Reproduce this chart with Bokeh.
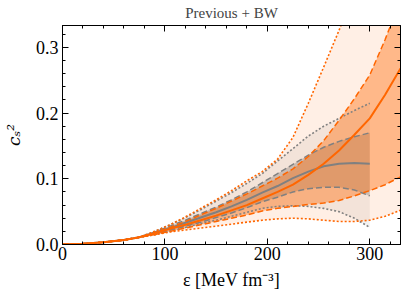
from bokeh.plotting import figure
from bokeh.models import LinearAxis, SingleIntervalTicker, PrintfTickFormatter
from bokeh.embed import file_html
from bokeh.resources import INLINE

# energy density grid (MeV fm^-3)
eps_prev = [0, 20, 40, 60, 75, 90, 105, 120, 135, 150, 165, 180, 195, 210, 225, 240, 255, 270, 285, 300]
eps_bw = eps_prev + [315, 330]

# "Previous" band (gray)
prev_median = [0, .0012, .0035, .0068, .011, .018, .025, .033, .041, .049, .058, .068, .079, .089, .101, .111, .119, .123, .124, .123]
prev_68_hi = [0, .0012, .0035, .0068, .011, .019, .028, .037, .047, .057, .068, .080, .094, .108, .122, .136, .148, .157, .164, .170]
prev_68_lo = [0, .0012, .0035, .0068, .011, .016, .022, .028, .034, .041, .048, .056, .065, .072, .080, .085, .087, .087, .083, .074]
prev_95_hi = [0, .0012, .0035, .0068, .011, .020, .030, .041, .053, .066, .079, .093, .108, .127, .146, .165, .180, .192, .204, .215]
prev_95_lo = [0, .0012, .0035, .0068, .011, .015, .020, .026, .032, .037, .043, .049, .055, .058, .059, .058, .055, .050, .040, .026]

# "Previous + BW" band (orange)
bw_median = [0, .0012, .0035, .0068, .011, .017, .024, .030, .037, .044, .052, .060, .070, .080, .091, .106, .123, .143, .167, .192, .228, .268]
bw_68_hi = [0, .0012, .0035, .0068, .011, .018, .026, .035, .045, .055, .066, .077, .089, .101, .115, .134, .158, .189, .222, .258, .312, .372]
bw_68_lo = [0, .0012, .0035, .0068, .011, .015, .020, .025, .030, .035, .040, .045, .051, .055, .058, .061, .063, .067, .074, .082, .091, .103]
bw_95_hi = [0, .0012, .0035, .0068, .011, .020, .030, .042, .055, .068, .082, .097, .111, .130, .163, .215, .270, .326, .385, .445, .505, .565]
bw_95_lo = [0, .0012, .0035, .0068, .011, .015, .019, .022, .025, .028, .031, .034, .037, .039, .040, .039, .037, .035, .035, .037, .043, .052]

x_ticks_interval = 100
y_ticks_interval = 0.1
x_max = 330
y_max = 1 / 3

GRAY = "#808080"
ORANGE = "#ff6600"
FONT = "Liberation Serif"

p = figure(width=408, height=299, x_range=(0, x_max), y_range=(0, y_max),
           output_backend="svg", toolbar_location=None,
           min_border_left=60, min_border_right=8, min_border_top=24, min_border_bottom=55)
p.background_fill_color = "white"
p.border_fill_color = "white"
p.outline_line_color = "black"
p.outline_line_width = 1
p.xgrid.visible = False
p.ygrid.visible = False

p.title.text = "Previous + BW"
p.title.align = "center"
p.title.vertical_align = "middle"
p.title.text_font = FONT
p.title.text_font_size = "15px"
p.title.text_font_style = "normal"
p.title.standoff = 7
p.title.offset = 0

# fills: previous first, then BW on top
p.varea(x=eps_prev, y1=prev_95_lo, y2=prev_95_hi, fill_color=GRAY, fill_alpha=0.1)
p.varea(x=eps_prev, y1=prev_68_lo, y2=prev_68_hi, fill_color=GRAY, fill_alpha=0.38)
p.varea(x=eps_bw, y1=bw_95_lo, y2=bw_95_hi, fill_color=ORANGE, fill_alpha=0.1)
p.varea(x=eps_bw, y1=bw_68_lo, y2=bw_68_hi, fill_color=ORANGE, fill_alpha=0.4)

# previous lines
p.line(eps_prev, prev_95_hi, line_color=GRAY, line_width=1.6, line_dash="2 2")
p.line(eps_prev, prev_95_lo, line_color=GRAY, line_width=1.6, line_dash="2 2")
p.line(eps_prev, prev_68_hi, line_color=GRAY, line_width=1.5, line_dash="6 3")
p.line(eps_prev, prev_68_lo, line_color=GRAY, line_width=1.5, line_dash="6 3")
p.line(eps_prev, prev_median, line_color=GRAY, line_width=2)

# BW lines
p.line(eps_bw, bw_95_hi, line_color=ORANGE, line_width=1.6, line_dash="2 2")
p.line(eps_bw, bw_95_lo, line_color=ORANGE, line_width=1.6, line_dash="2 2")
p.line(eps_bw, bw_68_hi, line_color=ORANGE, line_width=1.5, line_dash="6 3")
p.line(eps_bw, bw_68_lo, line_color=ORANGE, line_width=1.5, line_dash="6 3")
p.line(eps_bw, bw_median, line_color=ORANGE, line_width=2)


def style_axis(ax, labels=True):
    ax.axis_line_color = "black"
    ax.major_tick_line_color = "black"
    ax.minor_tick_line_color = "black"
    ax.major_tick_in = 6
    ax.major_tick_out = 0
    ax.minor_tick_in = 3
    ax.minor_tick_out = 0
    ax.major_label_text_font = FONT
    ax.major_label_text_color = "black"
    ax.axis_label_text_font = FONT
    ax.axis_label_text_color = "black"
    if not labels:
        ax.major_label_text_font_size = "0px"
        ax.major_label_text_color = None
        ax.major_label_standoff = 0
        ax.axis_label_standoff = 0


xa = p.xaxis[0]
xa.ticker = SingleIntervalTicker(interval=x_ticks_interval, num_minor_ticks=5)
style_axis(xa)
xa.major_label_text_font_size = "18px"
xa.major_label_standoff = 2
xa.axis_label = "ε [MeV fm⁻³]"
xa.axis_label_text_font_size = "18px"
xa.axis_label_text_font_style = "normal"
xa.axis_label_standoff = 7

ya = p.yaxis[0]
ya.ticker = SingleIntervalTicker(interval=y_ticks_interval, num_minor_ticks=5)
ya.formatter = PrintfTickFormatter(format="%.1f")
style_axis(ya)
ya.major_label_text_font_size = "18px"
ya.major_label_standoff = 4
ya.axis_label = "cₛ²"
ya.axis_label_text_font = "DejaVu Serif"
ya.axis_label_text_font_size = "17px"
ya.axis_label_text_font_style = "italic"
ya.axis_label_standoff = 9

top = LinearAxis(ticker=SingleIntervalTicker(interval=x_ticks_interval, num_minor_ticks=5))
style_axis(top, labels=False)
p.add_layout(top, "above")
right = LinearAxis(ticker=SingleIntervalTicker(interval=y_ticks_interval, num_minor_ticks=5))
style_axis(right, labels=False)
p.add_layout(right, "right")

open("out.html", "w").write(file_html(p, INLINE))
